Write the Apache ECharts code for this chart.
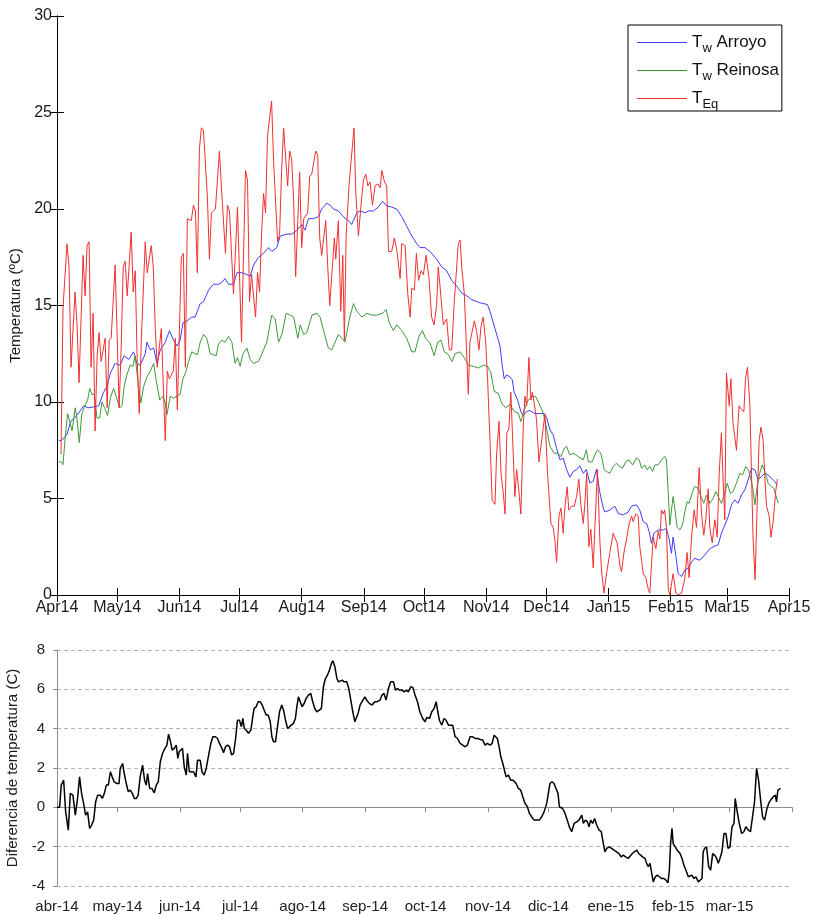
<!doctype html>
<html>
<head>
<meta charset="utf-8">
<title>Temperaturas</title>
<script src="https://cdn.jsdelivr.net/npm/echarts@6.0.0/dist/echarts.min.js"></script>
<style>
  html, body { margin: 0; padding: 0; background: #fff; }
  #chart { width: 815px; height: 914px; }
</style>
</head>
<body>
<div id="chart"></div>
<script type="text/javascript">

// x = days counted from 1 Apr 2014
var monthDays = [0, 30, 61, 91, 122, 153, 183, 214, 244, 275, 306, 334, 365];
var monthsTop = ['Apr14', 'May14', 'Jun14', 'Jul14', 'Aug14', 'Sep14', 'Oct14', 'Nov14', 'Dec14', 'Jan15', 'Feb15', 'Mar15', 'Apr15'];
var monthsBottom = ['abr-14', 'may-14', 'jun-14', 'jul-14', 'ago-14', 'sep-14', 'oct-14', 'nov-14', 'dic-14', 'ene-15', 'feb-15', 'mar-15', ''];
var tempTicks = [0, 5, 10, 15, 20, 25, 30];
var diffTicks = [-4, -2, 0, 2, 4, 6, 8];

// Tw Arroyo  [day, ºC]
var twArroyo = [[1,8.0],[2.2,8.0],[4.9,8.3],[6.9,9.0],[9.9,9.3],[13.3,9.8],[15.8,9.7],[20.8,9.8],[23.2,10.5],[24.9,10.8],[26.6,11.5],[29,12.0],[31.5,11.9],[33.5,12.4],[35.7,12.2],[38.2,12.6],[39.8,12.0],[41.5,11.9],[44,12.5],[44.8,13.1],[46.5,12.7],[48.2,12.8],[49.8,12.0],[51.5,12.7],[54,13.1],[56.1,13.7],[58.1,13.2],[59.8,12.9],[61.4,13.2],[62.8,14.1],[64.8,14.2],[67.2,14.4],[68.9,14.4],[71.4,15.1],[73.1,15.2],[75.6,15.8],[78,16.1],[80.5,16.1],[82.2,16.2],[83.8,16.4],[85.5,16.1],[88,16.1],[89.7,16.7],[92.2,16.7],[94.7,16.6],[96.3,16.5],[98,17.1],[100.5,17.5],[102.9,17.7],[105.5,18.0],[107.1,17.8],[109.6,18.0],[111.3,18.6],[114.6,18.7],[117.1,18.7],[119.6,18.9],[122.1,19.2],[123.7,18.9],[125.4,19.5],[127.9,19.5],[130.4,19.6],[132,20.0],[134.5,20.3],[136.2,20.2],[137.8,20.0],[140.3,19.9],[142.8,19.6],[145.3,19.4],[146.9,19.2],[149.5,19.8],[151.1,19.9],[153.6,19.8],[155.3,19.9],[157.8,19.9],[160.2,20.1],[162.4,20.4],[164.4,20.15],[166.9,20.1],[169.4,20.0],[171.9,19.6],[174.4,19.1],[176.9,18.6],[179.4,18.2],[181,18.0],[183.5,18.0],[186,17.8],[189.3,17.4],[191.8,17.0],[194.3,16.8],[196.8,16.3],[199.3,16.0],[201.8,15.65],[204.3,15.5],[206.8,15.3],[210.9,15.14],[214.6,15.05],[215.9,14.7],[218.4,13.8],[220.9,12.9],[222,11.9],[223,11.2],[224.2,11.4],[225.8,11.3],[227,11.15],[228,10.5],[229.7,10.1],[231.3,9.5],[232.5,9.3],[234.1,9.5],[235.8,9.56],[238.3,9.4],[240.8,9.4],[242.5,9.4],[244.1,9.2],[245.8,8.56],[247.4,8.3],[249.1,7.6],[250.8,7.0],[252.4,7.1],[254.1,6.5],[255.7,6.1],[257.4,6.4],[259.1,6.5],[260.7,6.7],[262.4,6.3],[264,6.5],[265.7,5.8],[267.4,5.9],[269,6.5],[270.7,5.3],[272.4,4.5],[273.2,4.3],[275.7,4.4],[278.2,4.6],[279.8,4.23],[282.3,4.15],[284.8,4.3],[286.5,4.6],[289,4.67],[290.6,4.4],[292.3,3.8],[294,3.7],[295.3,3.28],[296.4,2.68],[297.6,3.2],[299.8,3.37],[302.3,3.37],[303.9,3.45],[305.3,2.85],[306.4,2.16],[307.2,3.0],[308.6,2.0],[309.7,1.12],[311.4,0.95],[313.1,1.3],[314.7,1.38],[316.4,1.7],[318,1.9],[320.5,1.8],[323,2.07],[325.5,2.4],[328,2.54],[329.7,2.6],[331.3,3.2],[333,3.63],[334.7,4.06],[336.3,4.67],[338,4.93],[339.6,4.75],[341.3,5.19],[343,5.45],[344.6,5.96],[346.3,6.57],[348,6.48],[349.6,5.96],[351.3,6.14],[353,6.31],[354.6,6.22],[356.2,6.05],[357.9,5.88],[359.2,5.7]];

// Tw Reinosa  [day, ºC]
var twReinosa = [[1,6.9],[2.2,6.9],[3,6.75],[4.1,8.2],[5.3,9.4],[6.6,8.9],[7.5,8.5],[9.1,9.7],[10,9.08],[11.1,7.9],[12.4,9.4],[14.1,9.86],[15.3,10.1],[16.3,10.7],[17.4,10.4],[18.6,10.4],[19.9,9.17],[21.3,9.17],[22.4,10.0],[24.1,9.6],[25.2,9.3],[26.6,10.2],[28.2,10.7],[29.5,10.3],[31.2,9.7],[32.4,9.8],[33.5,10.8],[34.8,11.4],[36.5,11.9],[37.9,11.85],[39,12.4],[40.2,11.2],[41.8,9.95],[43.2,10.8],[44.8,11.3],[46.5,11.6],[48.2,12.0],[49.5,11.1],[51.2,10.1],[52.8,10.3],[54,9.95],[54.8,9.34],[56.5,10.3],[58.1,10.2],[59.8,10.3],[61.4,10.4],[62.8,11.2],[64.4,11.6],[65.6,12.1],[67.2,12.6],[68.9,12.5],[70,12.45],[71.4,13.1],[73.1,13.5],[74.7,13.3],[76.4,12.5],[78,12.45],[79.4,12.4],[80.5,13.0],[82.2,13.2],[83.8,13.1],[85.5,13.4],[87.2,13.1],[88.8,12.0],[90,12.3],[91.3,11.85],[92.7,12.5],[94.7,12.8],[96.3,12.2],[98,12.0],[100.5,12.1],[103,12.7],[104.6,13.1],[107.1,14.5],[108.8,14.3],[110.5,13.1],[112.1,13.5],[114.3,14.6],[116.3,14.5],[118,14.4],[120.1,13.3],[121.3,14.0],[123,13.5],[124.6,13.6],[127.1,14.5],[129.6,14.6],[131.2,14.4],[132.9,13.7],[135.3,12.8],[137,12.7],[138.7,13.1],[140.3,13.5],[142,13.3],[143.6,13.1],[145.8,14.3],[147.8,15.1],[149.5,14.7],[152,14.4],[154.5,14.6],[157,14.5],[159.4,14.5],[162.4,14.6],[164.1,14.8],[165.7,14.1],[167.7,13.7],[169.4,14.0],[171.9,13.7],[174.4,13.3],[176.9,12.6],[178.5,12.6],[180.5,13.4],[182.2,13.7],[183.8,13.3],[186,13.06],[188.1,12.4],[189.8,13.1],[191.5,13.2],[193.1,12.6],[194.8,12.5],[197.1,12.1],[198.4,12.5],[200.9,12.6],[203.1,12.3],[205.1,11.9],[207.6,11.85],[210.1,11.76],[212.6,11.9],[214.7,11.85],[216.4,11.5],[218,10.55],[220,10.46],[221.7,9.94],[223.7,9.7],[225.8,9.86],[228,9.51],[230,9.42],[231.3,8.99],[233,9.6],[234.6,10.03],[236.6,10.29],[238.6,10.29],[240.3,9.94],[242.5,9.42],[244.1,8.65],[245.8,7.7],[247.9,7.35],[249.6,7.35],[251.3,7.17],[252.9,7.6],[254.1,7.7],[255.7,7.26],[257.4,7.35],[259.9,7.17],[262.4,7.0],[264,7.52],[264.9,6.9],[266.9,6.9],[268.2,7.26],[269.5,7.52],[271.2,7.35],[272.9,6.48],[274,6.4],[275.7,6.3],[277.3,6.66],[279,6.83],[280.3,6.66],[282,6.57],[283.7,6.92],[285.3,7.0],[287,6.74],[289,7.1],[290.3,7.0],[291.5,6.57],[293.1,6.74],[294.3,6.48],[295.6,6.66],[297,6.4],[298.1,6.74],[299.8,6.74],[301.4,7.0],[303.1,7.18],[303.9,7.0],[304.8,5.27],[305.6,3.63],[306.4,4.4],[307.2,5.1],[308,4.5],[309.2,3.54],[310.6,3.37],[311.9,3.63],[313.1,4.32],[314.2,4.84],[315.2,4.75],[316.9,5.36],[318,5.62],[319.7,5.53],[321.4,5.01],[322.5,4.75],[323.9,5.18],[325.5,4.75],[327.2,5.01],[328.5,5.36],[329.7,5.1],[331.3,4.75],[333,5.27],[334.2,5.79],[335.8,5.27],[337.1,5.36],[338.8,5.79],[340.5,6.31],[341.8,6.22],[343.5,6.66],[345.1,6.4],[346.8,5.62],[348,4.67],[349.1,5.62],[350.4,6.31],[351.6,6.74],[353,6.4],[354.6,5.79],[356.2,5.62],[357.4,5.53],[358.4,5.18],[359.6,4.75]];

// TEq  [day, ºC]
var tEq = [[2,7.3],[3,14.9],[5,18.2],[6,17.0],[7,11.8],[9,15.7],[10,14.0],[11,11.0],[13,17.6],[14,15.5],[15,18.1],[16,18.3],[17,11.8],[18,14.6],[19,8.5],[20,12.4],[21,13.6],[22,12.1],[24,13.3],[25,9.7],[26,13.2],[27,13.3],[29,17.1],[31,9.7],[32,12.8],[33,17.0],[34,17.3],[35,15.5],[36,17.1],[37,18.8],[38,15.7],[39,16.8],[40,12.1],[41,9.4],[42,13.1],[44,18.3],[45,16.7],[47,18.1],[48,17.0],[49,13.8],[50,11.8],[52,13.8],[54,8.0],[55,11.6],[56,11.2],[58,11.6],[59,13.3],[60,9.6],[62,17.5],[63,17.7],[64,11.8],[65,19.5],[67,19.4],[68,20.2],[69,19.9],[70,16.7],[71,23.1],[72,24.2],[73,24.1],[75,20.6],[76,17.4],[77,19.8],[79,20.0],[81,23.0],[82,21.1],[84,17.7],[85,20.2],[86,19.9],[88,15.6],[90,20.1],[92,13.1],[94,22.0],[95,21.5],[96,15.2],[97,16.6],[99,14.4],[100,16.7],[101,15.7],[102,18.7],[103,20.8],[104,19.8],[105,23.8],[107,25.6],[108,22.5],[110,18.3],[111,18.7],[112,22.0],[113,24.2],[115,21.2],[116,23.0],[117,22.6],[118,20.4],[119,16.5],[121,21.9],[122,18.0],[123,19.5],[125,19.8],[126,21.7],[127,21.8],[129,23.0],[130,22.8],[131,18.5],[132,17.6],[134,19.4],[135,17.0],[136,15.0],[137.5,17.3],[138.3,18.5],[139,17.4],[140.3,19.4],[141.5,14.7],[142.5,17.6],[143.3,13.2],[144.2,18.7],[145.6,21.2],[147,22.9],[148.1,24.2],[149,20.8],[150.3,18.6],[151.6,20.2],[152.8,21.5],[154,21.8],[155,21.2],[156.1,21.4],[157.3,20.2],[158.6,21.2],[160,21.3],[161.1,21.1],[162,22.0],[163.3,21.4],[164.4,21.2],[165.3,17.8],[166.9,17.8],[168.2,18.5],[169.4,17.9],[171.1,16.4],[171.9,18.2],[173.6,18.1],[174.9,15.6],[176.1,14.4],[176.9,15.9],[178.2,15.8],[179.2,17.7],[180.3,16.3],[181.5,16.8],[182.7,16.6],[184,17.6],[185.5,16.4],[186.8,14.4],[188,14.0],[189.3,15.0],[190.1,17.0],[191.5,15.4],[192.6,14.0],[194.3,14.3],[195.6,12.7],[196.8,12.7],[198.1,15.2],[199.3,17.0],[200.1,18.2],[201,18.4],[201.8,17.0],[203.1,15.6],[204.2,12.7],[205.1,10.4],[205.9,13.1],[206.7,13.2],[208.1,14.2],[209.2,13.7],[210.4,12.7],[211.4,13.9],[212.5,14.4],[213.7,13.2],[214.7,11.2],[215.9,8.0],[217,4.9],[218.4,4.7],[219.2,7.3],[220.4,9.0],[221.4,6.3],[222.5,5.3],[223.4,4.2],[224.3,8.4],[225.3,8.6],[226.3,10.5],[227.5,7.3],[228.3,5.1],[229.2,6.5],[230.3,5.4],[231.3,4.2],[232.5,8.7],[233.3,10.3],[234.2,9.8],[235.3,12.3],[236.3,10.1],[237,10.5],[238,9.9],[239.1,9.1],[240.3,6.9],[241.3,7.7],[242.5,8.7],[243.3,9.4],[244.6,6.3],[246.3,3.7],[247.4,3.5],[248.3,2.8],[249.1,1.7],[250.3,4.1],[251.3,4.5],[252.4,3.2],[253.3,4.6],[254.4,5.6],[255.2,4.4],[256.6,4.6],[257.9,4.6],[259.1,5.1],[260.2,6.0],[261.2,4.7],[262.4,3.7],[263.2,4.7],[264.1,6.3],[265.2,2.5],[266.2,3.4],[267.4,1.4],[268.2,3.5],[269.5,6.5],[270.7,2.8],[271.5,1.3],[272.7,0.1],[274,1.1],[275.7,2.2],[277.3,3.2],[278,3.3],[279.3,2.7],[280.7,1.5],[281.5,1.2],[282.7,2.2],[284,2.9],[285.3,3.7],[286.5,4.1],[287.3,3.8],[288.6,4.2],[289.8,4.1],[290.6,2.5],[291.5,1.8],[292.3,1.1],[293.6,0.9],[294.8,0.3],[295.6,0.1],[296.4,1.5],[297.3,3.0],[298.6,2.4],[299.8,3.3],[300.6,2.9],[301.4,4.4],[302.3,4.2],[303,4.4],[303.9,3.5],[304.8,0.3],[305.6,0],[306.4,0],[307.2,1.1],[308.6,0.1],[309.7,0],[311.4,0.1],[313,0.8],[314.2,2.2],[315.2,0.9],[316.4,3.0],[317.7,4.4],[318.9,3.5],[320.2,6.6],[321.4,4.2],[322.5,3.1],[323.5,3.9],[324.7,5.5],[325.5,3.5],[326.7,2.7],[328,3.9],[329.2,3.0],[330.2,6.3],[331.3,8.4],[332.2,5.8],[333,3.9],[333.8,11.5],[335.2,9.8],[336,11.2],[337.1,8.9],[338.8,7.5],[340.1,9.8],[341.3,9.6],[342.5,9.5],[343.3,11.2],[344.3,11.8],[345.5,9.8],[346.3,6.3],[347.1,2.9],[348.1,0.8],[349.1,4.6],[350.1,8.0],[351,8.7],[352.1,8.0],[353,6.0],[353.8,4.6],[355.1,4.1],[356,3.0],[357.1,3.8],[358.4,5.4],[359.2,6.0]];

// Diferencia de temperatura  [day, C]
var diferencia = [[0,0],[1.3,0],[2.1,1.13],[3.3,1.38],[4.3,-0.23],[5.6,-1.16],[6.6,0.71],[7.9,0.62],[9.1,-0.4],[10.2,0.45],[11.2,1.55],[12.2,0.71],[13.2,0.2],[14.2,-0.4],[15.2,-0.23],[16.2,-1.07],[17.2,-0.9],[18.2,-0.65],[19.2,0.28],[20.2,0.62],[21.5,0.62],[22.5,0.45],[23.5,0.71],[24.5,1.13],[25.5,1.13],[26.5,1.81],[27.4,1.55],[28.4,1.3],[29.8,1.21],[30.8,1.21],[31.4,1.98],[32.6,2.23],[33.4,1.72],[34.4,1.21],[35.4,0.79],[36.4,0.88],[37.4,0.71],[38.4,0.45],[39.4,0.45],[40.3,0.62],[41.3,1.55],[42.5,2.15],[43.5,1.38],[44.3,1.13],[45,1.72],[46,0.96],[47.1,0.96],[48.3,0.74],[49.3,1.13],[50.3,1.3],[51.3,2.32],[52.4,2.74],[53.6,3.0],[54.6,3.16],[55.4,3.72],[56.2,3.42],[57.2,2.91],[58.2,3.0],[59.2,3.16],[60,2.49],[60.7,2.83],[61.5,2.91],[62.3,3.0],[63.2,2.06],[64.2,1.64],[64.8,2.74],[65.7,1.81],[66.8,1.81],[67.8,1.81],[69,1.55],[69.8,2.4],[71.1,2.4],[72,1.81],[73.1,1.64],[74.1,1.98],[75.3,2.66],[76.4,3.25],[77.4,3.59],[78.6,3.59],[79.7,3.5],[80.7,3.25],[81.9,3.0],[82.7,2.77],[83.7,3.08],[84.7,3.16],[85.7,3.08],[86.7,2.66],[87.7,2.74],[88.7,3.5],[89.6,4.43],[90.6,4.43],[91.6,4.1],[92.3,4.52],[93,4.01],[94,3.93],[95.1,3.76],[96.3,3.93],[97.1,4.52],[97.9,5.03],[98.9,5.11],[99.9,5.37],[100.9,5.37],[101.9,5.2],[102.9,4.94],[103.9,4.69],[104.9,4.69],[105.9,4.35],[106.7,3.59],[107.5,3.33],[108.5,3.33],[109.5,4.1],[110.5,4.86],[111.6,5.2],[112.5,4.94],[113.5,4.43],[114.5,4.01],[115.4,4.1],[116.4,4.18],[117.4,4.27],[118.4,4.52],[119.1,5.11],[119.9,5.62],[120.8,5.37],[121.7,5.11],[122.7,5.28],[123.7,5.54],[124.9,5.71],[126,5.79],[127,5.37],[128,5.03],[129,4.86],[130.3,4.94],[131.3,5.03],[132.3,6.13],[133.3,6.55],[134.3,6.72],[135.3,6.98],[136.3,7.32],[137,7.45],[138,7.15],[139,6.55],[139.8,6.38],[140.6,6.3],[141.6,6.47],[142.6,6.38],[143.9,6.38],[144.9,6.04],[145.9,5.45],[146.9,4.86],[147.9,4.35],[148.5,4.27],[149.5,4.77],[150.5,5.2],[151.9,5.45],[152.9,5.62],[153.8,5.45],[155.2,5.28],[156.5,5.2],[157.8,5.37],[159.1,5.37],[160.4,5.45],[161.4,5.71],[162.4,5.79],[163.4,5.45],[164.6,6.04],[165.7,6.38],[167.1,6.38],[168.1,5.96],[169.1,6.04],[170.1,5.96],[171.2,5.96],[172.4,5.87],[173.4,5.96],[174.5,5.87],[175.7,6.13],[176.7,6.1],[177.8,5.71],[179,5.37],[180.2,4.86],[181.6,4.52],[182.8,4.35],[183.6,4.57],[185,4.52],[186.1,4.86],[187.3,5.03],[188.3,5.37],[189.1,4.86],[189.9,4.43],[191.1,4.18],[192.2,4.52],[193.2,4.43],[194.4,4.18],[195.2,4.27],[196.5,4.18],[197.7,3.59],[198.9,3.5],[200.2,3.25],[201.5,3.16],[202.7,3.08],[203.8,3.16],[205.1,3.59],[206.5,3.59],[207.6,3.5],[209,3.5],[210.1,3.45],[211.4,3.42],[212.6,3.16],[213.7,3.25],[215.1,3.16],[216.1,3.25],[217.1,3.67],[218,3.76],[218.7,3.5],[219.7,3.0],[220.4,2.57],[221.4,2.23],[222.2,1.89],[223,1.55],[224.2,1.64],[225.3,1.38],[226.6,1.38],[228,1.21],[229.1,0.96],[230.3,0.87],[231.3,0.54],[232.4,0.2],[233.6,0.03],[234.6,-0.31],[235.7,-0.48],[236.9,-0.65],[238.2,-0.65],[239.5,-0.65],[240.7,-0.48],[241.9,-0.23],[243.2,0.2],[244,0.71],[244.8,1.21],[245.8,1.3],[246.8,1.21],[247.8,0.96],[248.8,0.71],[249.5,0.03],[250.1,0.11],[251.1,-0.06],[252.3,-0.31],[253.4,-0.65],[254.4,-0.99],[255.6,-1.24],[256.8,-0.82],[258.1,-0.74],[259.2,-0.65],[260.6,-0.4],[261.4,-0.82],[262.4,-0.65],[263.4,-0.74],[264.2,-0.99],[265,-0.65],[266,-0.82],[267,-0.57],[268,-0.9],[269.2,-1.16],[270.3,-1.24],[271.3,-1.84],[272.1,-2.26],[273,-2.09],[274.1,-2.01],[275.4,-2.09],[276.6,-2.18],[277.9,-2.26],[279.1,-2.35],[280.1,-2.52],[281.2,-2.43],[282.4,-2.52],[283.6,-2.6],[284.5,-2.52],[285.7,-2.35],[286.7,-2.26],[287.9,-2.18],[288.9,-2.35],[289.8,-2.43],[290.8,-2.52],[292,-2.6],[292.8,-2.85],[293.6,-3.02],[294.5,-2.85],[295.5,-3.45],[296.1,-3.79],[297.1,-3.53],[298.1,-3.45],[299.1,-3.53],[300.3,-3.62],[301.4,-3.62],[302.4,-3.7],[303.4,-3.84],[304.1,-3.19],[304.7,-1.84],[305.4,-1.07],[306,-1.84],[307,-2.01],[308,-2.18],[309.4,-2.35],[310.4,-2.6],[311.3,-2.94],[312.3,-3.19],[313.5,-3.53],[314.3,-3.62],[315.3,-3.45],[316.3,-3.62],[317.3,-3.53],[318.5,-3.79],[319.3,-3.7],[320.3,-3.62],[320.9,-2.26],[321.6,-2.09],[322.6,-2.01],[323.6,-3.02],[324.6,-3.19],[325.6,-2.35],[326.6,-2.43],[327.6,-2.6],[328.4,-2.85],[329.2,-2.6],[330.2,-2.26],[331.2,-1.33],[332.2,-1.33],[333.2,-2.09],[334.2,-2.01],[335.2,-0.99],[336.2,-0.82],[336.8,0.45],[337.8,-0.23],[338.8,-0.82],[340,-1.33],[341.1,-1.24],[342.1,-0.99],[343.3,-1.16],[344.4,-1.24],[345.4,-0.48],[346.4,0.28],[347.4,1.98],[348.4,1.38],[349.4,0.37],[350.4,-0.48],[351.4,-0.65],[352.4,-0.14],[353.4,0.2],[354.4,0.37],[355.7,0.54],[356.7,0.62],[357.3,0.28],[358,0.88],[359.3,0.96]];

var legendText = {
    'Tw Arroyo': '{n|T}{s|w}{n| Arroyo}',
    'Tw Reinosa': '{n|T}{s|w}{n| Reinosa}',
    'TEq': '{n|T}{s|Eq}'
};

var font = 'Liberation Sans, Arial, sans-serif';

function monthLabel(names) {
    return function (v) {
        var i = monthDays.indexOf(v);
        return i < 0 ? '' : names[i];
    };
}

var chart = echarts.init(document.getElementById('chart'));

var option = {
    animation: false,
    backgroundColor: '#fff',
    textStyle: { fontFamily: font },
    grid: [
        { left: 57, right: 26, top: 16, height: 579, outerBoundsMode: 'none' },
        { left: 57, right: 23, top: 650, height: 236, outerBoundsMode: 'none' }
    ],
    legend: {
        orient: 'vertical',
        left: 628,
        top: 25,
        padding: [9, 3, 0, 9],
        icon: 'rect',
        itemWidth: 50,
        itemHeight: 1,
        itemGap: 7,
        borderColor: '#000',
        borderWidth: 1,
        backgroundColor: '#fff',
        data: ['Tw Arroyo', 'Tw Reinosa', 'TEq'],
        formatter: function (name) { return legendText[name]; },
        textStyle: {
            color: '#111',
            rich: {
                n: { fontSize: 17, fontFamily: font, color: '#111' },
                s: { fontSize: 13, fontFamily: font, color: '#111', padding: [12, 0, 0, 0] }
            }
        }
    },
    xAxis: [
        {
            gridIndex: 0, type: 'value', min: 0, max: 365, position: 'bottom',
            axisLine: { lineStyle: { color: '#000', width: 1 } },
            axisTick: { inside: true, length: 7, customValues: monthDays, lineStyle: { color: '#000' } },
            axisLabel: { customValues: monthDays, formatter: monthLabel(monthsTop), fontSize: 16, color: '#1a1a1a', margin: 5 },
            splitLine: { show: false }
        },
        {
            gridIndex: 0, type: 'value', min: 0, max: 365, position: 'top',
            axisLine: { lineStyle: { color: '#000', width: 1 } },
            axisTick: { inside: true, length: 7, customValues: monthDays, lineStyle: { color: '#000' } },
            axisLabel: { show: false },
            splitLine: { show: false }
        },
        {
            gridIndex: 1, type: 'value', min: 0, max: 365, position: 'bottom',
            axisLine: { lineStyle: { color: '#8c8c8c', width: 1 } },
            axisTick: { length: 5, customValues: monthDays, lineStyle: { color: '#8c8c8c' } },
            axisLabel: { customValues: monthDays.slice(0, 12), formatter: monthLabel(monthsBottom), fontSize: 15, color: '#222', margin: 13 },
            splitLine: { show: false }
        }
    ],
    yAxis: [
        {
            gridIndex: 0, type: 'value', min: 0, max: 30, interval: 5, position: 'left',
            name: 'Temperatura (ºC)', nameLocation: 'middle', nameGap: 24, nameRotate: 90,
            nameTextStyle: { fontSize: 15, color: '#1a1a1a' },
            axisLine: { show: true, lineStyle: { color: '#000', width: 1 } },
            axisTick: { show: true, inside: true, length: 7, lineStyle: { color: '#000' } },
            axisLabel: { fontSize: 16, color: '#1a1a1a', margin: 5,
                formatter: function (v) { return tempTicks.indexOf(v) < 0 ? '' : String(v); } },
            splitLine: { show: false }
        },
        {
            gridIndex: 0, type: 'value', min: 0, max: 30, interval: 5, position: 'right',
            axisLine: { show: true, lineStyle: { color: '#000', width: 1 } },
            axisTick: { show: true, inside: true, length: 7, lineStyle: { color: '#000' } },
            axisLabel: { show: false },
            splitLine: { show: false }
        },
        {
            gridIndex: 1, type: 'value', min: -4, max: 8, interval: 2, position: 'left',
            name: 'Diferencia de temperatura (C)', nameLocation: 'middle', nameGap: 25, nameRotate: 90,
            nameTextStyle: { fontSize: 15, color: '#1a1a1a' },
            axisLine: { show: true, lineStyle: { color: '#8c8c8c', width: 1 } },
            axisTick: { show: true, length: 4, lineStyle: { color: '#8c8c8c' } },
            axisLabel: { fontSize: 15, color: '#222', margin: 12,
                formatter: function (v) { return diffTicks.indexOf(v) < 0 ? '' : String(v); } },
            splitLine: { show: true, lineStyle: { color: '#b4b4b4', width: 1, type: [4, 3] } }
        }
    ],
    series: [
        {
            name: 'Tw Arroyo', type: 'line', xAxisIndex: 0, yAxisIndex: 0,
            symbol: 'none', data: twArroyo,
            itemStyle: { color: '#3d3dff' },
            lineStyle: { color: '#3d3dff', width: 1 }
        },
        {
            name: 'Tw Reinosa', type: 'line', xAxisIndex: 0, yAxisIndex: 0,
            symbol: 'none', data: twReinosa,
            itemStyle: { color: '#3f983a' },
            lineStyle: { color: '#3f983a', width: 1 }
        },
        {
            name: 'TEq', type: 'line', xAxisIndex: 0, yAxisIndex: 0,
            symbol: 'none', data: tEq,
            itemStyle: { color: '#f03030' },
            lineStyle: { color: '#f03030', width: 1 }
        },
        {
            name: 'Diferencia', type: 'line', xAxisIndex: 2, yAxisIndex: 2,
            symbol: 'none', data: diferencia,
            itemStyle: { color: '#000' },
            lineStyle: { color: '#000', width: 1.5 }
        }
    ]
};

chart.setOption(option);

</script>
</body>
</html>
